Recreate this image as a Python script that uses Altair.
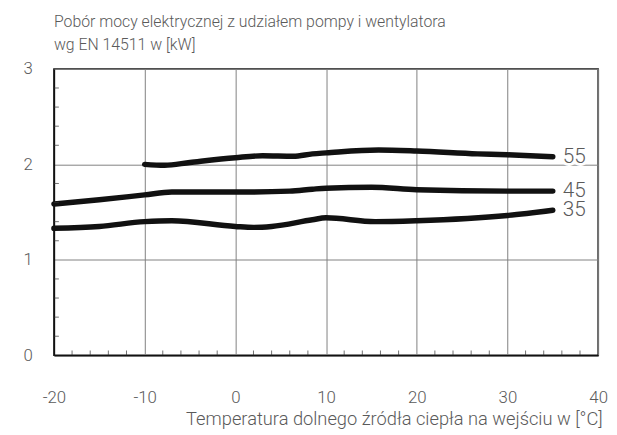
import altair as alt
import pandas as pd

# ---- data ----
series_names = ["55", "45", "35"]

temp_55 = [-10, -7.8, -5, 0, 3, 6.4, 8.5, 10, 15.8, 20, 26.7, 30, 35]
power_55 = [2.00, 1.99, 2.02, 2.07, 2.09, 2.085, 2.11, 2.12, 2.15, 2.14, 2.11, 2.10, 2.08]

temp_45 = [-20, -15, -10, -7, 0, 6, 8.5, 10, 15, 20, 30, 35]
power_45 = [1.585, 1.63, 1.68, 1.71, 1.71, 1.72, 1.74, 1.75, 1.76, 1.735, 1.72, 1.72]

temp_35 = [-20, -15, -10, -7, 0, 2, 4, 8.5, 10, 15.4, 20, 30, 35]
power_35 = [1.33, 1.35, 1.40, 1.41, 1.35, 1.34, 1.35, 1.42, 1.44, 1.40, 1.41, 1.465, 1.52]

x_major = [-20, -10, 0, 10, 20, 30, 40]
y_major = [0, 1, 2, 3]
x_minor = [-18, -16, -14, -12, -8, -6, -4, -2, 2, 4, 6, 8, 12, 14, 16, 18,
           22, 24, 26, 28, 32, 34, 36, 38]
y_minor = [0.2, 0.4, 0.6, 0.8, 1.2, 1.4, 1.6, 1.8, 2.2, 2.4, 2.6, 2.8]

title_lines = ["Pobór mocy elektrycznej z udziałem pompy i wentylatora",
               "wg EN 14511 w [kW]"]
x_title = "Temperatura dolnego źródła ciepła na wejściu w [°C]"

# ---- tables ----
rows = []
for name, xs, ys in zip(series_names, [temp_55, temp_45, temp_35],
                        [power_55, power_45, power_35]):
    for xv, yv in zip(xs, ys):
        rows.append({"series": name, "t": xv, "p": yv})
df = pd.DataFrame(rows)

label_df = pd.DataFrame({
    "series": series_names,
    "t": [temp_55[-1], temp_45[-1], temp_35[-1]],
    "p": [power_55[-1], power_45[-1], power_35[-1]],
})

xminor_df = pd.DataFrame({"t": x_minor})
yminor_df = pd.DataFrame({"p": y_minor})

FONT = "Roboto"
TXT = "#5a5a5a"

x_scale = alt.Scale(domain=[-20, 40], nice=False, zero=False)
y_scale = alt.Scale(domain=[0, 3], nice=False)

x_axis = alt.Axis(
    values=x_major, grid=True, ticks=False, labelPadding=35,
    labelFontSize=17, labelFont=FONT, labelFontWeight=300, labelColor=TXT,
    labelBaseline="top", labelExpr="datum.value + ''",
    title=x_title, titleFont=FONT, titleFontWeight=300, titleFontSize=18.5,
    titleColor=TXT, titleAnchor="end", titleAlign="right", titleX=555,
    titleY=64, titleBaseline="middle",
    labelFlush=False, labelOverlap=False)
y_axis = alt.Axis(
    values=y_major, grid=True, ticks=False, labelPadding=22,
    labelFontSize=17, labelFont=FONT, labelFontWeight=300, labelColor=TXT,
    title=None, labelFlush=False, labelOverlap=False)

X = alt.X("t:Q", scale=x_scale, axis=x_axis, title=x_title)
Y = alt.Y("p:Q", scale=y_scale, axis=y_axis, title=None)

lines = alt.Chart(df).mark_line(
    interpolate="monotone", strokeWidth=5.5, color="#111111", strokeCap="round"
).encode(x=X, y=Y, detail="series:N")

xminor = alt.Chart(xminor_df).mark_tick(color="#333333", thickness=1, size=5).encode(
    x=X, y=alt.value(287.5),
)
yminor = alt.Chart(yminor_df).mark_tick(color="#333333", thickness=1, size=5).encode(
    y=Y, x=alt.value(2.5),
)

halo = alt.Chart(label_df).mark_text(
    align="left", baseline="middle", dx=10, fontSize=21, font=FONT, fontWeight=300,
    color="white", stroke="white", strokeWidth=6
).encode(x=X, y=Y, text="series:N")
labels = alt.Chart(label_df).mark_text(
    align="left", baseline="middle", dx=10, fontSize=21, font=FONT, fontWeight=300,
    color=TXT
).encode(x=X, y=Y, text="series:N")

chart = alt.layer(lines, xminor, yminor, halo, labels).properties(
    width=551, height=290,
    autosize=alt.AutoSizeParams(type="none"),
    padding={"left": 46.5, "top": 59, "right": 11, "bottom": 76},
    title=alt.TitleParams(
        text=title_lines, anchor="start", frame="group", fontSize=16,
        font=FONT, fontWeight=300, color=TXT, lineHeight=23,
        baseline="bottom", offset=0, dy=9),
).configure_view(
    stroke="#111111", strokeWidth=1.5
).configure_axis(
    domainColor="#111111", domainWidth=1.5, gridColor="#808080", gridWidth=1
)

chart.save("out.html", embed_options={"renderer": "svg", "actions": False})
